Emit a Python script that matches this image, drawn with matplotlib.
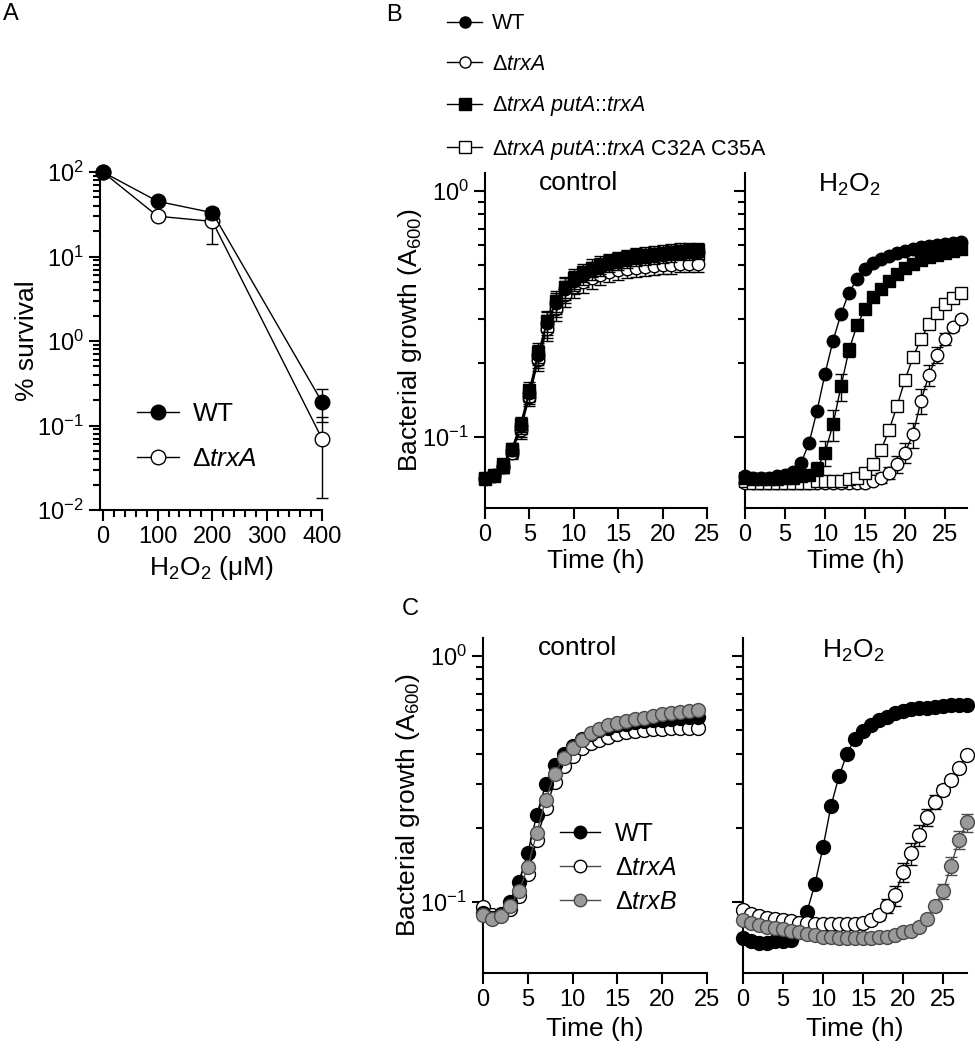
import numpy as np
import matplotlib
matplotlib.use('Agg')
import matplotlib.pyplot as plt
from matplotlib.lines import Line2D
from matplotlib.ticker import FixedLocator, NullFormatter

plt.rcParams['font.family'] = ['Liberation Sans', 'DejaVu Sans']
plt.rcParams['mathtext.fontset'] = 'custom'
plt.rcParams['mathtext.rm'] = 'Liberation Sans'
plt.rcParams['mathtext.it'] = 'Liberation Sans:italic'
plt.rcParams['axes.linewidth'] = 1.5

# panel A: survival vs H2O2
h2o2 = [0, 100, 200, 400]
wt_surv = [100, 45, 33, 0.19]
wt_surv_err = [0, 4, 5, 0.08]
trxA_surv = [100, 30, 26, 0.07]
trxA_surv_err = [0, 2, 12, 0.056]

# panel B: growth curves, control (0-24 h) and H2O2 (0-27 h)
t_bc = list(range(25))
wt_bc = [0.068, 0.070, 0.076, 0.088, 0.110, 0.150, 0.215, 0.290, 0.350, 0.400, 0.430, 0.455, 0.475,
         0.490, 0.505, 0.515, 0.525, 0.535, 0.540, 0.545, 0.550, 0.555, 0.560, 0.562, 0.565]
trxA_bc = [0.067, 0.069, 0.075, 0.086, 0.106, 0.145, 0.205, 0.275, 0.330, 0.375, 0.405, 0.425, 0.440,
           0.455, 0.465, 0.475, 0.480, 0.485, 0.490, 0.495, 0.500, 0.500, 0.505, 0.505, 0.505]
put_bc = [0.068, 0.070, 0.077, 0.089, 0.112, 0.155, 0.220, 0.295, 0.355, 0.405, 0.440, 0.465, 0.485,
          0.500, 0.515, 0.525, 0.535, 0.545, 0.550, 0.555, 0.560, 0.565, 0.570, 0.572, 0.575]
mut_bc = [0.067, 0.069, 0.075, 0.087, 0.108, 0.148, 0.210, 0.282, 0.340, 0.390, 0.420, 0.445, 0.465,
          0.480, 0.495, 0.505, 0.515, 0.522, 0.530, 0.535, 0.540, 0.545, 0.548, 0.550, 0.552]
err_bc = [0.003, 0.003, 0.004, 0.005, 0.008, 0.012, 0.020, 0.030, 0.035, 0.040, 0.040, 0.040, 0.040,
          0.040, 0.040, 0.040, 0.040, 0.040, 0.040, 0.040, 0.040, 0.040, 0.040, 0.040, 0.040]

t_bh = list(range(28))
wt_bh = [0.069, 0.068, 0.068, 0.068, 0.069, 0.070, 0.072, 0.078, 0.094, 0.127, 0.180, 0.245, 0.315, 0.385,
         0.437, 0.480, 0.510, 0.528, 0.543, 0.556, 0.570, 0.580, 0.590, 0.597, 0.603, 0.608, 0.613, 0.617]
wt_bh_err = [0.002] * 28
put_bh = [0.068, 0.067, 0.067, 0.067, 0.067, 0.068, 0.068, 0.069, 0.070, 0.074, 0.086, 0.112, 0.160, 0.225,
          0.283, 0.330, 0.370, 0.400, 0.430, 0.458, 0.483, 0.503, 0.520, 0.535, 0.548, 0.560, 0.570, 0.578]
put_bh_err = [0.002, 0.002, 0.002, 0.002, 0.002, 0.002, 0.002, 0.002, 0.003, 0.005, 0.010, 0.016, 0.020, 0.015,
              0.010, 0.008, 0.006, 0.006, 0.005, 0.005, 0.005, 0.005, 0.005, 0.005, 0.005, 0.005, 0.005, 0.005]
mut_bh = [0.066, 0.065, 0.065, 0.065, 0.065, 0.065, 0.065, 0.065, 0.065, 0.066, 0.066, 0.066, 0.066, 0.067,
          0.068, 0.071, 0.077, 0.088, 0.106, 0.133, 0.170, 0.210, 0.250, 0.286, 0.318, 0.345, 0.367, 0.385]
mut_bh_err = [0.002] * 28
trxA_bh = [0.065, 0.065, 0.065, 0.065, 0.065, 0.065, 0.065, 0.065, 0.065, 0.065, 0.065, 0.065, 0.065, 0.065,
           0.065, 0.065, 0.066, 0.068, 0.071, 0.077, 0.086, 0.102, 0.140, 0.178, 0.215, 0.250, 0.278, 0.300]
trxA_bh_err = [0.002, 0.002, 0.002, 0.002, 0.002, 0.002, 0.002, 0.002, 0.002, 0.002, 0.002, 0.002, 0.002, 0.002,
               0.002, 0.002, 0.002, 0.003, 0.004, 0.006, 0.008, 0.012, 0.016, 0.018, 0.016, 0.014, 0.010, 0.008]

# panel C: growth curves, control (0-24 h) and H2O2 (0-28 h)
t_cc = list(range(25))
wt_cc = [0.090, 0.086, 0.089, 0.100, 0.120, 0.158, 0.225, 0.300, 0.360, 0.400, 0.430, 0.458, 0.480,
         0.497, 0.510, 0.520, 0.528, 0.535, 0.540, 0.545, 0.550, 0.555, 0.560, 0.562, 0.565]
trxA_cc = [0.095, 0.088, 0.088, 0.093, 0.105, 0.130, 0.178, 0.240, 0.305, 0.355, 0.392, 0.420, 0.440,
           0.455, 0.468, 0.478, 0.487, 0.493, 0.498, 0.502, 0.505, 0.507, 0.509, 0.510, 0.510]
trxB_cc = [0.088, 0.085, 0.087, 0.096, 0.110, 0.138, 0.190, 0.260, 0.330, 0.385, 0.420, 0.455, 0.485,
           0.505, 0.520, 0.533, 0.543, 0.552, 0.560, 0.568, 0.578, 0.585, 0.592, 0.598, 0.602]

t_ch = list(range(29))
wt_ch = [0.071, 0.069, 0.068, 0.068, 0.069, 0.069, 0.070, 0.075, 0.091, 0.118, 0.166, 0.245, 0.323, 0.400, 0.460,
         0.495, 0.522, 0.545, 0.565, 0.585, 0.595, 0.605, 0.610, 0.615, 0.620, 0.625, 0.628, 0.630, 0.630]
trxA_ch = [0.092, 0.089, 0.087, 0.086, 0.085, 0.084, 0.083, 0.082, 0.082, 0.081, 0.081, 0.081, 0.081, 0.081, 0.081,
           0.082, 0.084, 0.088, 0.096, 0.106, 0.132, 0.157, 0.186, 0.220, 0.254, 0.285, 0.313, 0.350, 0.395]
trxA_ch_err = [0.002, 0.002, 0.002, 0.002, 0.002, 0.002, 0.002, 0.002, 0.002, 0.002, 0.002, 0.002, 0.002, 0.002, 0.002,
               0.002, 0.003, 0.004, 0.006, 0.010, 0.012, 0.016, 0.018, 0.018, 0.016, 0.014, 0.012, 0.010, 0.008]
trxB_ch = [0.084, 0.082, 0.080, 0.079, 0.078, 0.077, 0.076, 0.075, 0.074, 0.073, 0.072, 0.072, 0.071, 0.071, 0.071,
           0.071, 0.071, 0.072, 0.072, 0.073, 0.075, 0.076, 0.079, 0.085, 0.096, 0.110, 0.140, 0.178, 0.210]
trxB_ch_err = [0.002, 0.002, 0.002, 0.002, 0.002, 0.002, 0.002, 0.002, 0.002, 0.002, 0.002, 0.002, 0.002, 0.002, 0.002,
               0.002, 0.002, 0.002, 0.002, 0.002, 0.002, 0.002, 0.002, 0.003, 0.004, 0.008, 0.012, 0.015, 0.018]

W, H = 975, 1050
GRAY = '#9a9a9a'
LBL = 19
TCK = 17

# marker styles
sty_wt = dict(marker='o', mfc='black', mec='black', color='black')
sty_trxA = dict(marker='o', mfc='white', mec='black', color='black')
sty_put = dict(marker='s', mfc='black', mec='black', color='black')
sty_mut = dict(marker='s', mfc='white', mec='black', color='black')
sty_trxB = dict(marker='o', mfc=GRAY, mec='#4a4a4a', color='#4a4a4a')


def px_axes(left, right, top, bottom):
    return fig.add_axes([left / W, 1 - bottom / H, (right - left) / W, (bottom - top) / H])


def style(ax):
    for s in ['top', 'right']:
        ax.spines[s].set_visible(False)
    ax.tick_params(which='major', direction='out', length=8, width=1.5, labelsize=TCK)
    ax.tick_params(which='minor', direction='out', length=5, width=1.5)


def series(ax, x, y, err, st, ms, z):
    ax.errorbar(x, y, yerr=err, lw=1.0, ms=ms, mew=1.0, capsize=4, elinewidth=1.0,
                ecolor=st['color'], zorder=z, clip_on=False, **st)


def growth_axes(ax, xmax, show_ylabels, xpad):
    style(ax)
    ax.set_yscale('log')
    ax.set_ylim(0.0512, 1.18)
    ax.set_xlim(0, xmax)
    ax.set_xticks([0, 5, 10, 15, 20, 25])
    ax.yaxis.set_major_locator(FixedLocator([0.1, 1.0]))
    ax.yaxis.set_minor_locator(FixedLocator([0.2, 0.3, 0.4, 0.5, 0.6, 0.7, 0.8, 0.9]))
    ax.yaxis.set_minor_formatter(NullFormatter())
    if not show_ylabels:
        ax.set_yticklabels([])
    else:
        ax.set_ylabel('Bacterial growth (A$_{600}$)', fontsize=LBL, labelpad=-1)
    ax.set_xlabel('Time (h)', fontsize=LBL, labelpad=xpad)


fig = plt.figure(figsize=(W / 100, H / 100), dpi=100)

# ---- A ----
axA = px_axes(100, 322, 172, 510)
style(axA)
axA.set_yscale('log')
axA.set_ylim(0.01, 100)
axA.set_xlim(-5, 400)
axA.set_xticks([0, 100, 200, 300, 400])
axA.set_xticks(np.arange(0, 401, 20), minor=True)
series(axA, h2o2, trxA_surv, trxA_surv_err, sty_trxA, 10.5, 3)
series(axA, h2o2, wt_surv, wt_surv_err, sty_wt, 10.5, 4)
axA.set_ylabel('% survival', fontsize=LBL, labelpad=-1)
axA.set_xlabel('H$_2$O$_2$ ($\\mathregular{\u03bc}$M)', fontsize=LBL, labelpad=4)
hA = [Line2D([], [], lw=1.0, ms=10.5, **sty_wt), Line2D([], [], lw=1.0, ms=10.5, **sty_trxA)]
axA.legend(hA, ['WT', '\u0394$\\mathit{trxA}$'], loc='lower left', bbox_to_anchor=(0.06, 0.045),
           frameon=False, fontsize=LBL, handlelength=1.6, handletextpad=0.5, labelspacing=0.8)

# ---- B ----
axBc = px_axes(485, 707, 173, 508)
growth_axes(axBc, 25, True, 2)
series(axBc, t_bc, mut_bc, err_bc, sty_mut, 9, 3)
series(axBc, t_bc, trxA_bc, err_bc, sty_trxA, 9, 4)
series(axBc, t_bc, put_bc, err_bc, sty_put, 9, 5)
series(axBc, t_bc, wt_bc, err_bc, sty_wt, 9, 6)
axBc.text(0.42, 0.97, 'control', transform=axBc.transAxes, ha='center', va='center', fontsize=LBL)

axBh = px_axes(745, 967, 173, 508)
growth_axes(axBh, 27.75, False, 2)
series(axBh, t_bh, trxA_bh, trxA_bh_err, sty_trxA, 9, 3)
series(axBh, t_bh, mut_bh, mut_bh_err, sty_mut, 9, 4)
series(axBh, t_bh, put_bh, put_bh_err, sty_put, 9, 5)
series(axBh, t_bh, wt_bh, wt_bh_err, sty_wt, 9, 6)
axBh.text(0.47, 0.965, 'H$_2$O$_2$', transform=axBh.transAxes, ha='center', va='center', fontsize=LBL)

hB = [Line2D([], [], lw=1.0, ms=8, **sty_wt), Line2D([], [], lw=1.0, ms=8, **sty_trxA),
      Line2D([], [], lw=1.0, ms=8, **sty_put), Line2D([], [], lw=1.0, ms=8, **sty_mut)]
lB = ['WT', '\u0394$\\mathit{trxA}$', '\u0394$\\mathit{trxA}$ $\\mathit{putA}$::$\\mathit{trxA}$',
      '\u0394$\\mathit{trxA}$ $\\mathit{putA}$::$\\mathit{trxA}$ C32A C35A']
fig.legend(hB, lB, loc='upper left', bbox_to_anchor=(428 / W, 1 + 6 / H), frameon=False, fontsize=15.5,
           handlelength=1.6, handletextpad=0.45, labelspacing=0.9)

# ---- C ----
axCc = px_axes(483, 707, 638, 973)
growth_axes(axCc, 25, True, 4)
series(axCc, t_cc, trxA_cc, [0.002] * 25, sty_trxA, 10, 3)
series(axCc, t_cc, wt_cc, [0.002] * 25, sty_wt, 10, 4)
series(axCc, t_cc, trxB_cc, [0.002] * 25, sty_trxB, 10, 5)
axCc.text(0.42, 0.97, 'control', transform=axCc.transAxes, ha='center', va='center', fontsize=LBL)
sty_trxA_leg = dict(sty_trxA, color='#4a4a4a')
hC = [Line2D([], [], lw=1.0, ms=9, **sty_wt), Line2D([], [], lw=1.0, ms=9, **sty_trxA_leg),
      Line2D([], [], lw=1.0, ms=9, **sty_trxB)]
axCc.legend(hC, ['WT', '\u0394$\\mathit{trxA}$', '\u0394$\\mathit{trxB}$'], loc='lower left',
            bbox_to_anchor=(0.245, 0.11), frameon=False, fontsize=18, handlelength=1.6,
            handletextpad=0.6, labelspacing=0.4)

axCh = px_axes(743, 967, 638, 973)
growth_axes(axCh, 28, False, 4)
series(axCh, t_ch, wt_ch, [0.002] * 29, sty_wt, 10, 3)
series(axCh, t_ch, trxA_ch, trxA_ch_err, sty_trxA, 10, 4)
series(axCh, t_ch, trxB_ch, trxB_ch_err, sty_trxB, 10, 5)
axCh.text(0.49, 0.96, 'H$_2$O$_2$', transform=axCh.transAxes, ha='center', va='center', fontsize=LBL)

# panel letters
fig.text(3 / W, 1 - 3 / H, 'A', fontsize=17, va='top', ha='left')
fig.text(386 / W, 1 - 4 / H, 'B', fontsize=17, va='top', ha='left')
fig.text(402 / W, 1 - 598 / H, 'C', fontsize=17, va='top', ha='left')

fig.savefig('out.png', dpi=100)
